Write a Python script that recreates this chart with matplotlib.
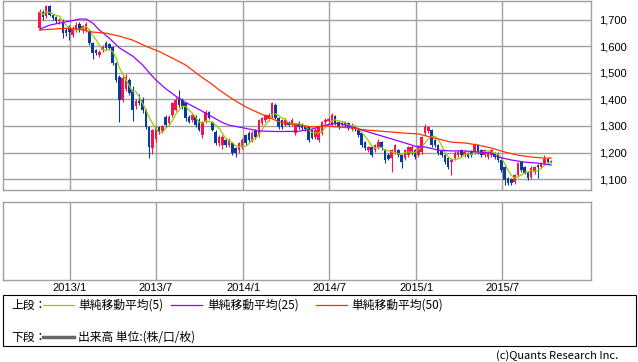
import numpy as np
import pandas as pd
import matplotlib
matplotlib.use('Agg')
import matplotlib.pyplot as plt
import matplotlib.dates as mdates
from matplotlib.patches import Rectangle
from matplotlib.lines import Line2D

# weekly candles (red = up, blue = down)
start_week = '2012-10-29'
opens = [1668, 1728, 1713, 1751, 1717, 1709, 1694, 1698, 1660, 1672,
         1642, 1660, 1683, 1660, 1662, 1653, 1611, 1585, 1567, 1585,
         1611, 1608, 1597, 1536, 1484, 1397, 1440, 1473, 1435, 1375,
         1395, 1397, 1360, 1296, 1217, 1250, 1296, 1280, 1333, 1311,
         1341, 1360, 1405, 1397, 1386, 1333, 1322, 1333, 1322, 1266,
         1315, 1352, 1315, 1277, 1236, 1228, 1247, 1228, 1236, 1217,
         1209, 1221, 1266, 1273, 1247, 1285, 1266, 1311, 1322, 1326,
         1333, 1379, 1330, 1322, 1303, 1311, 1303, 1273, 1311, 1303,
         1300, 1296, 1285, 1258, 1247, 1273, 1315, 1318, 1303, 1337,
         1315, 1303, 1315, 1311, 1288, 1300, 1285, 1273, 1239, 1209,
         1221, 1209, 1221, 1239, 1209, 1190, 1179, 1202, 1209, 1190,
         1179, 1190, 1198, 1209, 1190, 1202, 1273, 1281, 1285, 1247,
         1228, 1205, 1190, 1179, 1164, 1179, 1190, 1209, 1190, 1198,
         1205, 1202, 1228, 1209, 1190, 1183, 1190, 1198, 1198, 1172,
         1145, 1104, 1100, 1088, 1115, 1164, 1145, 1127, 1108, 1127,
         1153, 1145, 1160, 1176, 1164]
closes = [1728, 1710, 1751, 1717, 1705, 1694, 1700, 1650, 1649, 1655,
          1668, 1680, 1664, 1675, 1683, 1612, 1574, 1574, 1578, 1597,
          1593, 1595, 1536, 1473, 1397, 1480, 1484, 1424, 1360, 1395,
          1388, 1360, 1296, 1221, 1285, 1296, 1277, 1300, 1303, 1333,
          1386, 1397, 1379, 1375, 1330, 1315, 1341, 1303, 1285, 1315,
          1352, 1330, 1285, 1236, 1258, 1258, 1228, 1247, 1198, 1198,
          1236, 1247, 1236, 1247, 1273, 1258, 1322, 1330, 1341, 1341,
          1386, 1330, 1296, 1296, 1322, 1305, 1322, 1303, 1296, 1292,
          1288, 1247, 1255, 1285, 1292, 1315, 1322, 1326, 1341, 1311,
          1296, 1311, 1303, 1292, 1303, 1288, 1266, 1228, 1217, 1221,
          1190, 1228, 1239, 1217, 1172, 1176, 1209, 1228, 1190, 1164,
          1209, 1221, 1221, 1183, 1221, 1258, 1296, 1296, 1228, 1228,
          1198, 1190, 1164, 1145, 1172, 1198, 1202, 1190, 1202, 1183,
          1190, 1232, 1202, 1190, 1209, 1198, 1209, 1183, 1172, 1134,
          1096, 1085, 1085, 1115, 1160, 1134, 1123, 1104, 1142, 1145,
          1145, 1160, 1176, 1164, 1168]
highs = [1740, 1735, 1755, 1755, 1722, 1715, 1705, 1702, 1668, 1680,
         1675, 1690, 1690, 1680, 1690, 1660, 1615, 1590, 1585, 1605,
         1618, 1612, 1600, 1540, 1490, 1490, 1495, 1480, 1450, 1400,
         1420, 1410, 1365, 1300, 1290, 1300, 1300, 1305, 1340, 1340,
         1390, 1410, 1435, 1405, 1390, 1340, 1345, 1340, 1330, 1320,
         1360, 1356, 1320, 1285, 1265, 1265, 1255, 1255, 1240, 1220,
         1240, 1255, 1270, 1280, 1280, 1290, 1325, 1335, 1345, 1350,
         1390, 1385, 1335, 1325, 1330, 1318, 1330, 1310, 1318, 1310,
         1305, 1300, 1290, 1292, 1300, 1320, 1330, 1335, 1350, 1341,
         1320, 1318, 1320, 1315, 1310, 1305, 1290, 1278, 1245, 1226,
         1226, 1233, 1250, 1245, 1213, 1198, 1215, 1232, 1214, 1195,
         1215, 1226, 1228, 1215, 1228, 1262, 1307, 1300, 1290, 1252,
         1233, 1210, 1195, 1183, 1178, 1205, 1210, 1214, 1208, 1203,
         1209, 1236, 1232, 1215, 1215, 1205, 1215, 1203, 1203, 1176,
         1150, 1108, 1104, 1120, 1165, 1168, 1150, 1131, 1148, 1150,
         1158, 1165, 1190, 1180, 1172]
lows = [1660, 1700, 1705, 1712, 1698, 1688, 1685, 1630, 1640, 1623,
        1635, 1655, 1655, 1650, 1655, 1605, 1551, 1565, 1560, 1580,
        1588, 1590, 1530, 1465, 1315, 1390, 1430, 1415, 1320, 1365,
        1380, 1350, 1290, 1179, 1195, 1240, 1270, 1275, 1296, 1305,
        1335, 1355, 1370, 1365, 1320, 1310, 1315, 1296, 1280, 1255,
        1310, 1325, 1280, 1230, 1225, 1215, 1220, 1220, 1190, 1183,
        1200, 1215, 1230, 1240, 1240, 1250, 1260, 1305, 1315, 1320,
        1330, 1325, 1290, 1290, 1300, 1300, 1298, 1266, 1290, 1285,
        1280, 1240, 1250, 1250, 1240, 1265, 1308, 1311, 1298, 1305,
        1290, 1298, 1296, 1285, 1282, 1282, 1260, 1222, 1210, 1202,
        1185, 1203, 1215, 1210, 1160, 1170, 1127, 1195, 1183, 1142,
        1172, 1185, 1192, 1176, 1183, 1196, 1266, 1275, 1222, 1222,
        1192, 1185, 1158, 1138, 1115, 1172, 1185, 1185, 1185, 1178,
        1185, 1196, 1196, 1185, 1185, 1176, 1185, 1176, 1165, 1128,
        1077, 1078, 1078, 1082, 1108, 1128, 1118, 1098, 1100, 1120,
        1104, 1140, 1155, 1160, 1160]

# 25 / 50 week averages (week index, value)
ma25_idx = [0, 3, 6, 9, 12, 14, 16, 18, 21, 24, 28, 31, 33, 35, 38, 41, 44, 48, 52, 55,
            57, 60, 66, 72, 78, 82, 86, 90, 94, 98, 102, 106, 110, 113, 116, 120, 124, 128,
            132, 136, 138, 142, 146, 150, 154]
ma25 = [1664, 1679, 1687, 1694, 1702, 1702, 1687, 1661, 1630, 1594, 1563, 1530, 1500, 1473,
        1440, 1412, 1388, 1362, 1334, 1313, 1303, 1296, 1281, 1279, 1280, 1288, 1303, 1311,
        1296, 1281, 1266, 1251, 1236, 1224, 1221, 1209, 1206, 1206, 1202, 1198, 1183, 1172,
        1164, 1160, 1153]
ma50_idx = [0, 4, 8, 12, 16, 20, 24, 28, 32, 36, 40, 44, 48, 52, 54, 58, 62, 64, 68, 72,
            78, 82, 86, 90, 94, 98, 102, 106, 110, 114, 120, 124, 128, 132, 136, 140, 144,
            148, 152, 154]
ma50 = [1661, 1664, 1668, 1664, 1653, 1649, 1638, 1623, 1600, 1580, 1555, 1529, 1491, 1456,
        1436, 1402, 1372, 1360, 1338, 1316, 1303, 1296, 1300, 1296, 1292, 1285, 1281, 1277,
        1273, 1270, 1251, 1239, 1236, 1228, 1217, 1202, 1190, 1183, 1179, 1179]

y_ticks = [1100, 1200, 1300, 1400, 1500, 1600, 1700]
y_tick_labels = ['1,100', '1,200', '1,300', '1,400', '1,500', '1,600', '1,700']
x_ticks = ['2013-01-01', '2013-07-01', '2014-01-01', '2014-07-01', '2015-01-01', '2015-07-01']
x_tick_labels = ['2013/1', '2013/7', '2014/1', '2014/7', '2015/1', '2015/7']

W, H = 638, 362
UP, DOWN = '#f5134b', '#0b3a9c'
C5, C25, C50 = '#99cc00', '#9900ff', '#ff3300'
GRID = '#a0a0a0'
NUM_FONT = 'Liberation Sans'
JP_FONT = ['Noto Sans CJK JP', 'Liberation Sans']


def box(x0, y0, x1, y1):
    # pixel box (top-left origin) -> figure fractions
    return [x0 / W, 1 - y1 / H, (x1 - x0) / W, (y1 - y0) / H]


fig = plt.figure(figsize=(W / 100, H / 100), dpi=100)
ax = fig.add_axes(box(3, 1, 591, 190))
axv = fig.add_axes(box(3, 202, 591, 280))

o = np.array(opens, float)
c = np.array(closes, float)
hi = np.array(highs, float)
lo = np.array(lows, float)
dates = pd.date_range(start_week, periods=len(c), freq='7D')
xd = mdates.date2num(dates)
cols = np.where(c >= o, UP, DOWN)

ax.vlines(xd, lo, hi, colors=cols, linewidth=0.8, zorder=3)
ax.bar(xd, np.maximum(np.abs(c - o), 2), bottom=np.minimum(o, c), width=5.4,
       color=cols, linewidth=0, zorder=3)

ma5 = pd.Series(c).rolling(5, min_periods=1).mean()
ax.plot(xd, ma5, color=C5, lw=0.9, zorder=4)
ax.plot(xd[ma25_idx], ma25, color=C25, lw=0.9, zorder=4)
ax.plot(xd[ma50_idx], ma50, color=C50, lw=0.9, zorder=4)

xmin = mdates.date2num(pd.Timestamp('2012-08-13'))
xmax = mdates.date2num(pd.Timestamp('2016-01-04'))
xt = mdates.date2num(pd.to_datetime(x_ticks))

for a in (ax, axv):
    a.set_xlim(xmin, xmax)
    a.set_xticks(xt)
    a.grid(True, axis='x', color=GRID, lw=1.0)
    a.set_axisbelow(True)
    for s in a.spines.values():
        s.set_color(GRID)
        s.set_linewidth(1.0)
    a.tick_params(length=0)

ax.set_ylim(1059, 1770)
ax.set_yticks(y_ticks)
ax.set_yticklabels(y_tick_labels, fontsize=8, family=NUM_FONT)
ax.yaxis.tick_right()
ax.tick_params(axis='y', pad=6)
ax.grid(True, axis='y', color=GRID, lw=1.0)
ax.set_xticklabels([])

axv.set_yticks([])
axv.set_xticklabels(x_tick_labels, fontsize=8, family=NUM_FONT)
axv.tick_params(axis='x', pad=2)

# legend box
fig.add_artist(Rectangle((3 / W, 1 - 346 / H), 633 / W, 51 / H, transform=fig.transFigure,
                         facecolor='none', edgecolor='black', lw=0.8))


def seg(x0, x1, y, color, lw):
    fig.add_artist(Line2D([x0 / W, x1 / W], [1 - y / H, 1 - y / H], color=color, lw=lw,
                          transform=fig.transFigure))


def label(x, y, s, ha='left', size=8.5):
    fig.text(x / W, 1 - y / H, s, fontsize=size, family=JP_FONT, ha=ha, va='center')


label(11, 305, '上段：')
seg(43, 74, 305, C5, 0.9)
label(78, 305, '単純移動平均(5)')
seg(171, 202, 305, C25, 0.9)
label(207, 305, '単純移動平均(25)')
seg(316, 347, 305, C50, 0.9)
label(351, 305, '単純移動平均(50)')
label(11, 337, '下段：')
seg(43, 74, 337, '#666666', 2.5)
label(78, 337, '出来高 単位:(株/口/枚)')
label(618, 356, '(c)Quants Research Inc.', ha='right', size=8)

fig.savefig('out.png', dpi=100)
